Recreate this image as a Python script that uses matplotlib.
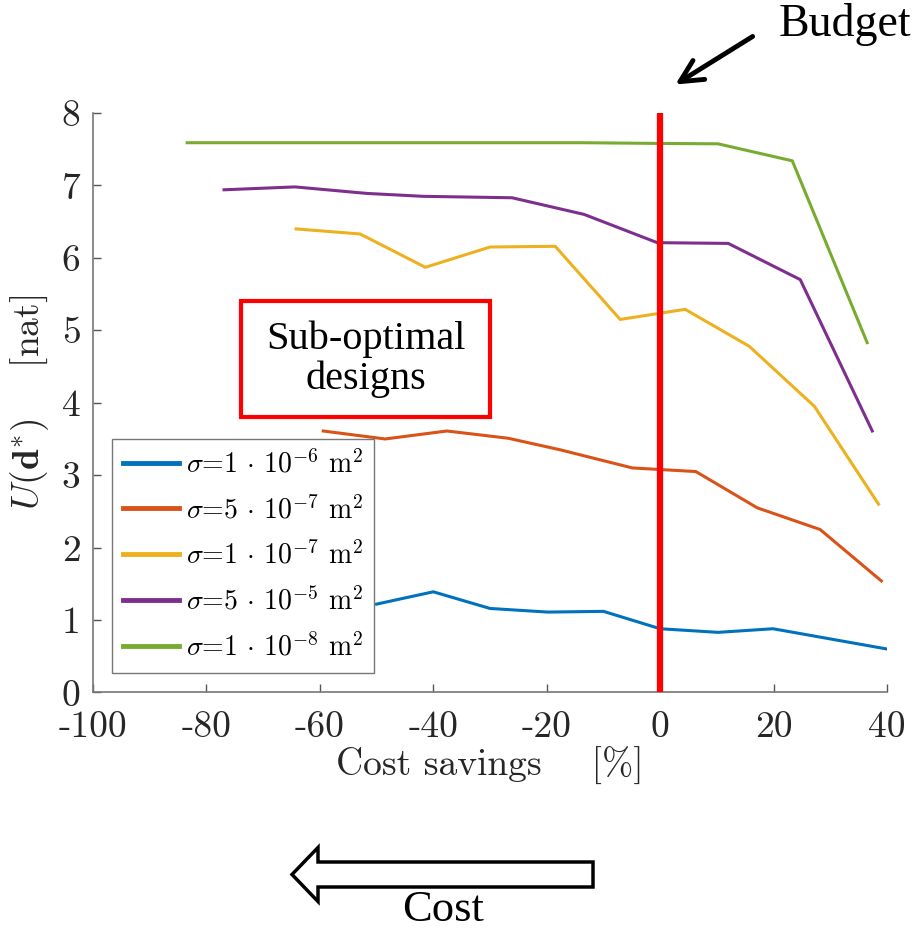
import matplotlib
matplotlib.use('Agg')
import matplotlib.pyplot as plt
from matplotlib.patches import Rectangle, FancyArrow

plt.rcParams['mathtext.fontset'] = 'cm'
plt.rcParams['axes.unicode_minus'] = False

# Data
x_s1 = [-50.0, -40.0, -30.0, -19.8, -10.0, 0.0, 10.2, 19.9, 40.0]
y_s1 = [1.22, 1.39, 1.16, 1.11, 1.12, 0.88, 0.83, 0.88, 0.60]

x_s2 = [-59.4, -48.5, -37.6, -26.8, -17.6, -4.9, 6.3, 17.1, 28.2, 39.0]
y_s2 = [3.61, 3.50, 3.61, 3.51, 3.35, 3.10, 3.05, 2.55, 2.25, 1.54]

x_s3 = [-64.2, -52.9, -41.4, -30.0, -18.5, -7.05, 4.4, 15.7, 27.2, 38.5]
y_s3 = [6.40, 6.33, 5.87, 6.15, 6.16, 5.15, 5.29, 4.78, 3.95, 2.60]

x_s4 = [-76.9, -64.4, -51.7, -41.8, -26.1, -13.4, -0.5, 12.0, 24.7, 37.4]
y_s4 = [6.94, 6.98, 6.89, 6.85, 6.83, 6.60, 6.21, 6.20, 5.70, 3.61]

x_s5 = [-83.4, -40.0, -13.6, 0.0, 10.2, 23.3, 36.5]
y_s5 = [7.59, 7.59, 7.59, 7.58, 7.575, 7.34, 4.83]

series_labels = [r'$\sigma$=1 $\cdot$ 10$^{\mathrm{-}6}$ m$^2$',
                 r'$\sigma$=5 $\cdot$ 10$^{\mathrm{-}7}$ m$^2$',
                 r'$\sigma$=1 $\cdot$ 10$^{\mathrm{-}7}$ m$^2$',
                 r'$\sigma$=5 $\cdot$ 10$^{\mathrm{-}5}$ m$^2$',
                 r'$\sigma$=1 $\cdot$ 10$^{\mathrm{-}8}$ m$^2$']
colors = ['#0072BD', '#D95319', '#EDB120', '#7E2F8E', '#77AC30']

xticks = [-100, -80, -60, -40, -20, 0, 20, 40]
yticks = [0, 1, 2, 3, 4, 5, 6, 7, 8]
budget_x = 0

fig = plt.figure(figsize=(9.19, 9.31), dpi=100)
ax = fig.add_axes([0.1012, 0.2562, 0.864, 0.6224])

xs = [x_s1, x_s2, x_s3, x_s4, x_s5]
ys = [y_s1, y_s2, y_s3, y_s4, y_s5]
for xv, yv, c, lab in zip(xs, ys, colors, series_labels):
    ax.plot(xv, yv, color=c, lw=2.2, label=lab)

ax.plot([budget_x, budget_x], [0, 8], color='#FF0000', lw=4.5, zorder=5)

ax.set_xlim(-100, 40)
ax.set_ylim(0, 8)
ax.set_xticks(xticks, [str(t) for t in xticks])
ax.set_yticks(yticks, [str(t) for t in yticks])
for lbl in ax.get_xticklabels() + ax.get_yticklabels():
    lbl.set_fontfamily('cmr10')
    lbl.set_fontsize(27)
    lbl.set_color('#262626')
ax.tick_params(axis='x', direction='in', length=6, width=1, color='#555555', pad=13)
ax.tick_params(axis='y', direction='in', length=6, width=1, color='#555555', pad=9)

for s in ['top', 'right']:
    ax.spines[s].set_visible(False)
for s in ['left', 'bottom']:
    ax.spines[s].set_color('#777777')
    ax.spines[s].set_linewidth(1.2)

ax.set_xlabel('Cost savings    [%]', fontfamily='cmr10', fontsize=27,
              color='#262626', labelpad=2)
ax.set_ylabel(r'$U(\mathbf{d}^{*})$    [nat]', fontsize=27,
              color='#262626', labelpad=8)
ax.yaxis.label.set_fontfamily('cmr10')

leg = ax.legend(loc='lower left', bbox_to_anchor=(0.024, 0.034),
                borderaxespad=0, prop={'family': 'cmr10', 'size': 20},
                fancybox=False, framealpha=1, edgecolor='#777777',
                handlelength=2.0, handletextpad=0.25, labelspacing=0.62,
                borderpad=0.4)
leg.get_frame().set_linewidth(1.0)
for line in leg.get_lines():
    line.set_linewidth(3.5)

# Sub-optimal designs box
ax.add_patch(Rectangle((-73.9, 3.80), 43.9, 1.61, fill=False,
                       edgecolor='#FF0000', lw=3, zorder=6))
ax.text(-51.9, 4.60, 'Sub-optimal\ndesigns', ha='center', va='center',
        fontfamily='Liberation Serif', fontsize=29, linespacing=1.1)

# Budget annotation (figure pixel coords -> inches)
fig.text(8.45, 9.31 - 0.25, 'Budget', transform=fig.dpi_scale_trans,
         ha='center', va='center', fontfamily='Liberation Serif', fontsize=33)
ax.annotate('', xy=(6.73, 9.31 - 0.86), xycoords=fig.dpi_scale_trans,
            xytext=(7.55, 9.31 - 0.35), textcoords=fig.dpi_scale_trans,
            arrowprops=dict(arrowstyle='->', lw=3.5, color='black',
                            mutation_scale=40))

# Cost arrow
arr = FancyArrow(5.93, 9.31 - 8.745, -3.01, 0, width=0.25, head_width=0.54,
                 head_length=0.26, length_includes_head=True,
                 transform=fig.dpi_scale_trans, facecolor='white',
                 edgecolor='black', lw=2.5)
fig.add_artist(arr)
fig.text(4.43, 9.31 - 9.21, 'Cost', transform=fig.dpi_scale_trans,
         ha='center', va='baseline', fontfamily='Liberation Serif', fontsize=32)

fig.savefig('out.png', dpi=100)
